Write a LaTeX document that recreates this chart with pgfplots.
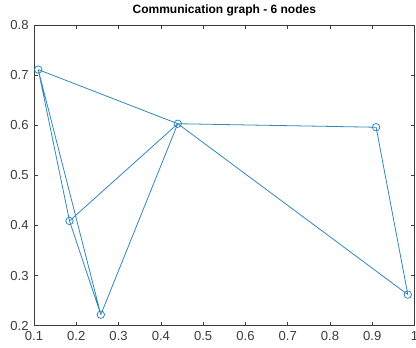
\documentclass[border=0pt]{standalone}
\usepackage{pgfplots}
\pgfplotsset{compat=1.18}
\usepackage{fontspec}
\setmainfont{Liberation Sans}
\definecolor{edgeblue}{RGB}{50,135,185}
\definecolor{axgray}{RGB}{60,60,60}
\begin{document}
\begin{tikzpicture}
\begin{axis}[
  name=ax,
  at={(0,0)}, anchor=south west,
  scale only axis,
  width=285.45pt, height=225.5pt,
  xmin=0.1, xmax=1, ymin=0.2, ymax=0.8,
  xtick={0.1,0.2,...,1.0}, ytick={0.2,0.3,...,0.8},
  xticklabels={0.1,0.2,0.3,0.4,0.5,0.6,0.7,0.8,0.9,1},
  yticklabels={0.2,0.3,0.4,0.5,0.6,0.7,0.8},
  tick align=inside,
  major tick length=3pt,
  axis line style={axgray, line width=0.5pt},
  every tick/.style={axgray, line width=0.5pt},
  tick label style={font=\fontsize{9.8}{11}\selectfont, text=axgray},
  /pgf/number format/assume math mode=true,
  xticklabel style={yshift=-0.5pt},
  yticklabel style={xshift=-0.5pt},
  title={Communication graph - 6 nodes},
  title style={font=\bfseries\fontsize{9}{10}\selectfont, yshift=-3pt},
  unbounded coords=jump,
]
% edges of the graph
\addplot[edgeblue, line width=0.6pt, no marks] coordinates {
  (0.110,0.711) (0.440,0.603) (nan,nan)
  (0.110,0.711) (0.184,0.409) (nan,nan)
  (0.110,0.711) (0.258,0.222) (nan,nan)
  (0.184,0.409) (0.258,0.222) (nan,nan)
  (0.184,0.409) (0.440,0.603) (nan,nan)
  (0.258,0.222) (0.440,0.603) (nan,nan)
  (0.440,0.603) (0.909,0.596) (nan,nan)
  (0.440,0.603) (0.984,0.262) (nan,nan)
  (0.909,0.596) (0.984,0.262)
};
% nodes
\addplot[only marks, mark=o, mark size=2.8pt, edgeblue, mark options={line width=0.6pt}] coordinates {
  (0.110,0.711) (0.184,0.409) (0.258,0.222)
  (0.440,0.603) (0.909,0.596) (0.984,0.262)
};
\end{axis}
\pgfresetboundingbox
\path (-25.5pt,-16pt) rectangle (286.5pt,244.25pt);
\end{tikzpicture}
\end{document}
